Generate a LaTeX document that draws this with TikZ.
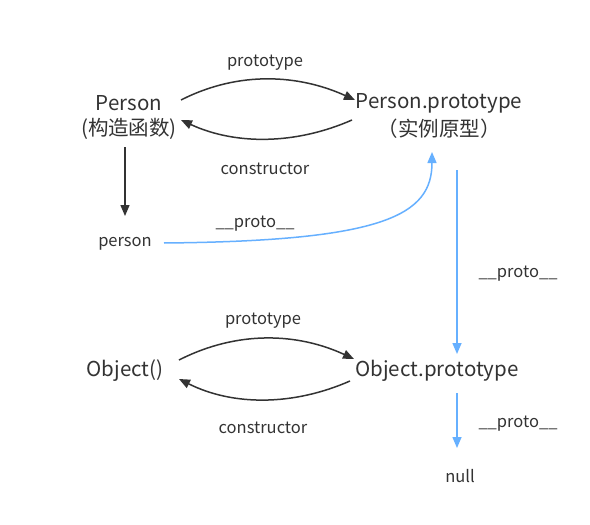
\documentclass[tikz,border=0pt]{standalone}
\usepackage{fontspec}
\setmainfont{Noto Sans CJK SC}
\usetikzlibrary{arrows.meta}
\definecolor{ink}{HTML}{333333}
\definecolor{blu}{HTML}{66B0FF}
\begin{document}
\begin{tikzpicture}[x=1pt,y=-1pt,
  big/.style={font=\fontsize{20.5}{24}\selectfont, text=ink, inner sep=0pt, align=center},
  small/.style={font=\fontsize{16.5}{19}\selectfont, text=ink, inner sep=0pt},
  darr/.style={draw=ink, line width=1.5pt, -{Triangle[length=11pt,width=9pt]}},
  barr/.style={draw=blu, line width=1.5pt, -{Triangle[length=11pt,width=9pt]}}]
\useasboundingbox (0,0) rectangle (590,525);
\fill[white] (0,0) rectangle (590,525);
% nodes
\node[big] (P1) at (129,103) {Person};
\node[big] (P2) at (129,129) {(构造函数)};
\node[big] (PP1) at (439,103) {Person.prototype};
\node[big] (PP2) at (439,129) {（实例原型）};
\node[small] (person) at (125,244) {person};
\node[big] (O) at (125,371) {Object()};
\node[big] (OP) at (437,371) {Object.prototype};
\node[small] (null) at (460,476) {null};
% labels
\node[small] (l1) at (265,63) {prototype};
\node[small] (l2) at (265,169) {constructor};
\node[small] (l3) at (255,224) {\_\_proto\_\_};
\node[small] (l4) at (518,274) {\_\_proto\_\_};
\node[small] (l5) at (263,321) {prototype};
\node[small] (l6) at (263,428) {constructor};
\node[small] (l7) at (518,424) {\_\_proto\_\_};
% coordinates
\coordinate (a1) at (181,100);
\coordinate (a2) at (355,100);
\coordinate (b1) at (352,120);
\coordinate (b2) at (181,120);
\coordinate (c1) at (125,147);
\coordinate (c2) at (125,216);
\coordinate (d1) at (164,243);
\coordinate (d2) at (432,152);
\coordinate (e1) at (457,170);
\coordinate (e2) at (457,354);
\coordinate (f1) at (179,360);
\coordinate (f2) at (354,359);
\coordinate (g1) at (350,381);
\coordinate (g2) at (179,379);
\coordinate (h1) at (457,393);
\coordinate (h2) at (457,448);
% connectors
\draw[darr] (a1) .. controls (240,70) and (300,75) .. (a2);
\draw[darr] (b1) .. controls (295,145) and (235,145) .. (b2);
\draw[darr] (c1) -- (c2);
\draw[barr] (d1) .. controls (385,241) and (432,215) .. (d2);
\draw[barr] (e1) -- (e2);
\draw[darr] (f1) .. controls (238,330) and (298,333) .. (f2);
\draw[darr] (g1) .. controls (293,406) and (233,406) .. (g2);
\draw[barr] (h1) -- (h2);
\end{tikzpicture}
\end{document}
